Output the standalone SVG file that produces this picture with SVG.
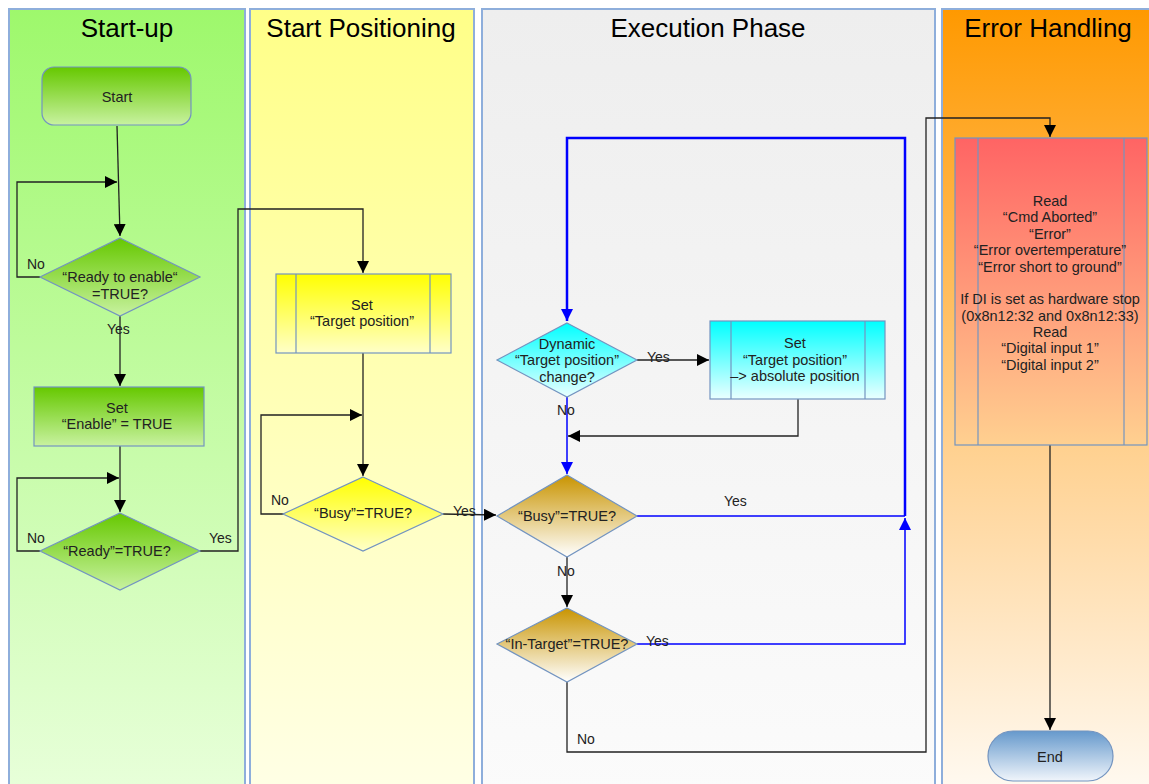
<svg xmlns="http://www.w3.org/2000/svg" width="1149" height="784" viewBox="0 0 1149 784">
<defs>
<linearGradient id="lgGreen" x1="0" y1="0" x2="0" y2="1"><stop offset="0" stop-color="#9ef86c"/><stop offset="1" stop-color="#e8ffda"/></linearGradient>
<linearGradient id="lgYellow" x1="0" y1="0" x2="0" y2="1"><stop offset="0" stop-color="#ffff88"/><stop offset="1" stop-color="#ffffe6"/></linearGradient>
<linearGradient id="lgGrey" x1="0" y1="0" x2="0" y2="1"><stop offset="0" stop-color="#eeeeee"/><stop offset="1" stop-color="#fbfbfb"/></linearGradient>
<linearGradient id="lgOrange" x1="0" y1="0" x2="0" y2="1"><stop offset="0" stop-color="#ff9900"/><stop offset="0.55" stop-color="#ffd08e"/><stop offset="1" stop-color="#fffaf2"/></linearGradient>
<linearGradient id="gGreen" x1="0" y1="0" x2="0" y2="1"><stop offset="0" stop-color="#66c800"/><stop offset="1" stop-color="#c8f2a0"/></linearGradient>
<linearGradient id="gYellow" x1="0" y1="0" x2="0" y2="1"><stop offset="0" stop-color="#ffff00"/><stop offset="1" stop-color="#ffffc8"/></linearGradient>
<linearGradient id="gCyan" x1="0" y1="0" x2="0" y2="1"><stop offset="0" stop-color="#00ffff"/><stop offset="1" stop-color="#eaffff"/></linearGradient>
<linearGradient id="gGold" x1="0" y1="0" x2="0" y2="1"><stop offset="0" stop-color="#c99400"/><stop offset="1" stop-color="#ffffff"/></linearGradient>
<linearGradient id="gRed" x1="0" y1="0" x2="0" y2="1"><stop offset="0" stop-color="#ff6464"/><stop offset="1" stop-color="#ffd090"/></linearGradient>
<linearGradient id="gBlue" x1="0" y1="0" x2="0" y2="1"><stop offset="0" stop-color="#6699cc"/><stop offset="1" stop-color="#f0f5fb"/></linearGradient>
<marker id="ah" viewBox="0 0 12 12" refX="12" refY="6" markerWidth="12" markerHeight="12" markerUnits="userSpaceOnUse" orient="auto"><path d="M0,0 L12,6 L0,12 Z" fill="#000"/></marker>
<marker id="ahb" viewBox="0 0 12 12" refX="12" refY="6" markerWidth="12" markerHeight="12" markerUnits="userSpaceOnUse" orient="auto"><path d="M0,0 L12,6 L0,12 Z" fill="#0000ff"/></marker>
</defs>
<style>
.lane{stroke:#8eaedb;stroke-width:2}
.hdr{font-family:"Liberation Sans",Arial,sans-serif;font-size:26px;fill:#000;text-anchor:middle}
.t{font-family:"Liberation Sans",Arial,sans-serif;font-size:14.5px;fill:#222;text-anchor:middle;dominant-baseline:central}
.lbl{font-family:"Liberation Sans",Arial,sans-serif;font-size:14px;fill:#222;dominant-baseline:central}
.shape{stroke:#7394c0;stroke-width:1.2}
.c{fill:none;stroke:#222;stroke-width:1.3}
.cb{fill:none;stroke:#0000ff;stroke-width:1.5}
.cbt{fill:none;stroke:#0000ff;stroke-width:2.5}
</style>
<rect width="1149" height="784" fill="#ffffff"/>
<g id="lanes">
<g id="lane-startup"><rect class="lane" x="9" y="9" width="236" height="785" fill="url(#lgGreen)"/><text class="hdr" x="127" y="37">Start-up</text></g>
<g id="lane-startpos"><rect class="lane" x="250" y="9" width="224" height="785" fill="url(#lgYellow)"/><text class="hdr" x="361" y="37">Start Positioning</text></g>
<g id="lane-exec"><rect class="lane" x="482" y="9" width="453" height="785" fill="url(#lgGrey)"/><text class="hdr" x="708" y="37">Execution Phase</text></g>
<g id="lane-error"><rect class="lane" x="942" y="9" width="220" height="785" fill="url(#lgOrange)"/><text class="hdr" x="1048" y="37">Error Handling</text></g>
</g>
<g id="connectors">
<path class="c" d="M117,126 L120,236" marker-end="url(#ah)"/>
<path class="c" d="M40,277 L17,277 L17,182 L117,182" marker-end="url(#ah)"/>
<path class="c" d="M120,316 L120,386" marker-end="url(#ah)"/>
<path class="c" d="M120,446 L120,512" marker-end="url(#ah)"/>
<path class="c" d="M40,551 L17,551 L17,478 L119,478" marker-end="url(#ah)"/>
<path class="c" d="M200,551 L238,551 L238,209 L363,209 L363,273" marker-end="url(#ah)"/>
<path class="c" d="M363,353 L363,476" marker-end="url(#ah)"/>
<path class="c" d="M284,514 L261,514 L261,415 L362,415" marker-end="url(#ah)"/>
<path class="c" d="M443,514 L496,515" marker-end="url(#ah)"/>
<path class="cb" d="M637,516 L905,516"/>
<path class="cbt" d="M905,516 L905,138 L567,138 L567,321" marker-end="url(#ahb)"/>
<path class="c" d="M567,557 L567,607" marker-end="url(#ah)"/>
<path class="cb" d="M637,644 L905,644 L905,518" marker-end="url(#ahb)"/>
<path class="c" d="M567,682 L567,752 L926,752 L926,118 L1050,118 L1050,137" marker-end="url(#ah)"/>
<path class="c" d="M637,360 L709,360" marker-end="url(#ah)"/>
<path class="c" d="M798,399 L798,436 L568,436" marker-end="url(#ah)"/>
<path class="cb" d="M567,397 L567,474" marker-end="url(#ahb)"/>
<path class="c" d="M1050,445 L1050,730" marker-end="url(#ah)"/>
<text class="lbl" x="27" y="264">No</text>
<text class="lbl" x="107" y="329">Yes</text>
<text class="lbl" x="27" y="538">No</text>
<text class="lbl" x="209" y="538">Yes</text>
<text class="lbl" x="271" y="500">No</text>
<text class="lbl" x="453" y="511">Yes</text>
<text class="lbl" x="647" y="357">Yes</text>
<text class="lbl" x="557" y="410">No</text>
<text class="lbl" x="724" y="501">Yes</text>
<text class="lbl" x="557" y="571">No</text>
<text class="lbl" x="646" y="641">Yes</text>
<text class="lbl" x="577" y="739">No</text>
</g>
<g id="start"><rect class="shape" x="42" y="67" width="149" height="58" rx="12" fill="url(#gGreen)"/><text class="t" x="117" y="97">Start</text></g>
<g id="ready-to-enable"><polygon class="shape" points="120,238 200,277 120,316 40,277" fill="url(#gGreen)"/><text class="t" x="120" y="277">“Ready to enable“</text><text class="t" x="120" y="294">=TRUE?</text></g>
<g id="set-enable"><rect class="shape" x="34" y="387" width="170" height="59" fill="url(#gGreen)"/><text class="t" x="117" y="408">Set</text><text class="t" x="117" y="424">“Enable” = TRUE</text></g>
<g id="ready"><polygon class="shape" points="120,513 200,551 120,590 40,551" fill="url(#gGreen)"/><text class="t" x="117" y="551">“Ready”=TRUE?</text></g>
<g id="set-target"><rect class="shape" x="276" y="274" width="175" height="79" fill="url(#gYellow)"/><line class="shape" x1="296" y1="274" x2="296" y2="353"/><line class="shape" x1="430" y1="274" x2="430" y2="353"/><text class="t" x="362" y="305">Set</text><text class="t" x="362" y="321">“Target position”</text></g>
<g id="busy1"><polygon class="shape" points="363,477 443,514 363,551 283,514" fill="url(#gYellow)"/><text class="t" x="363" y="513">“Busy”=TRUE?</text></g>
<g id="dynamic"><polygon class="shape" points="567,323 637,360 567,397 497,360" fill="url(#gCyan)"/><text class="t" x="567" y="344">Dynamic</text><text class="t" x="567" y="360">“Target position”</text><text class="t" x="567" y="377">change?</text></g>
<g id="set-abs"><rect class="shape" x="710" y="321" width="175" height="78" fill="url(#gCyan)"/><line class="shape" x1="731" y1="321" x2="731" y2="399"/><line class="shape" x1="865" y1="321" x2="865" y2="399"/><text class="t" x="795" y="343">Set</text><text class="t" x="795" y="360">“Target position”</text><text class="t" x="795" y="376">–&gt; absolute position</text></g>
<g id="busy2"><polygon class="shape" points="567,475 637,516 567,557 497,516" fill="url(#gGold)"/><text class="t" x="567" y="516">“Busy”=TRUE?</text></g>
<g id="intarget"><polygon class="shape" points="567,608 637,644 567,682 497,644" fill="url(#gGold)"/><text class="t" x="567" y="644">“In-Target”=TRUE?</text></g>
<g id="error-read"><rect class="shape" x="955" y="138" width="192" height="307" fill="url(#gRed)"/><line class="shape" x1="978" y1="138" x2="978" y2="445"/><line class="shape" x1="1124" y1="138" x2="1124" y2="445"/>
<text class="t" x="1050" y="201">Read</text><text class="t" x="1050" y="217">“Cmd Aborted”</text><text class="t" x="1050" y="234">“Error”</text><text class="t" x="1050" y="250">“Error overtemperature”</text><text class="t" x="1050" y="267">“Error short to ground”</text><text class="t" x="1050" y="299">If DI is set as hardware stop</text><text class="t" x="1050" y="316">(0x8n12:32 and 0x8n12:33)</text><text class="t" x="1050" y="332">Read</text><text class="t" x="1050" y="348">“Digital input 1”</text><text class="t" x="1050" y="365">“Digital input 2”</text></g>
<g id="end"><rect class="shape" x="988" y="731" width="125" height="50" rx="25" fill="url(#gBlue)"/><text class="t" x="1050" y="757">End</text></g>
</svg>
